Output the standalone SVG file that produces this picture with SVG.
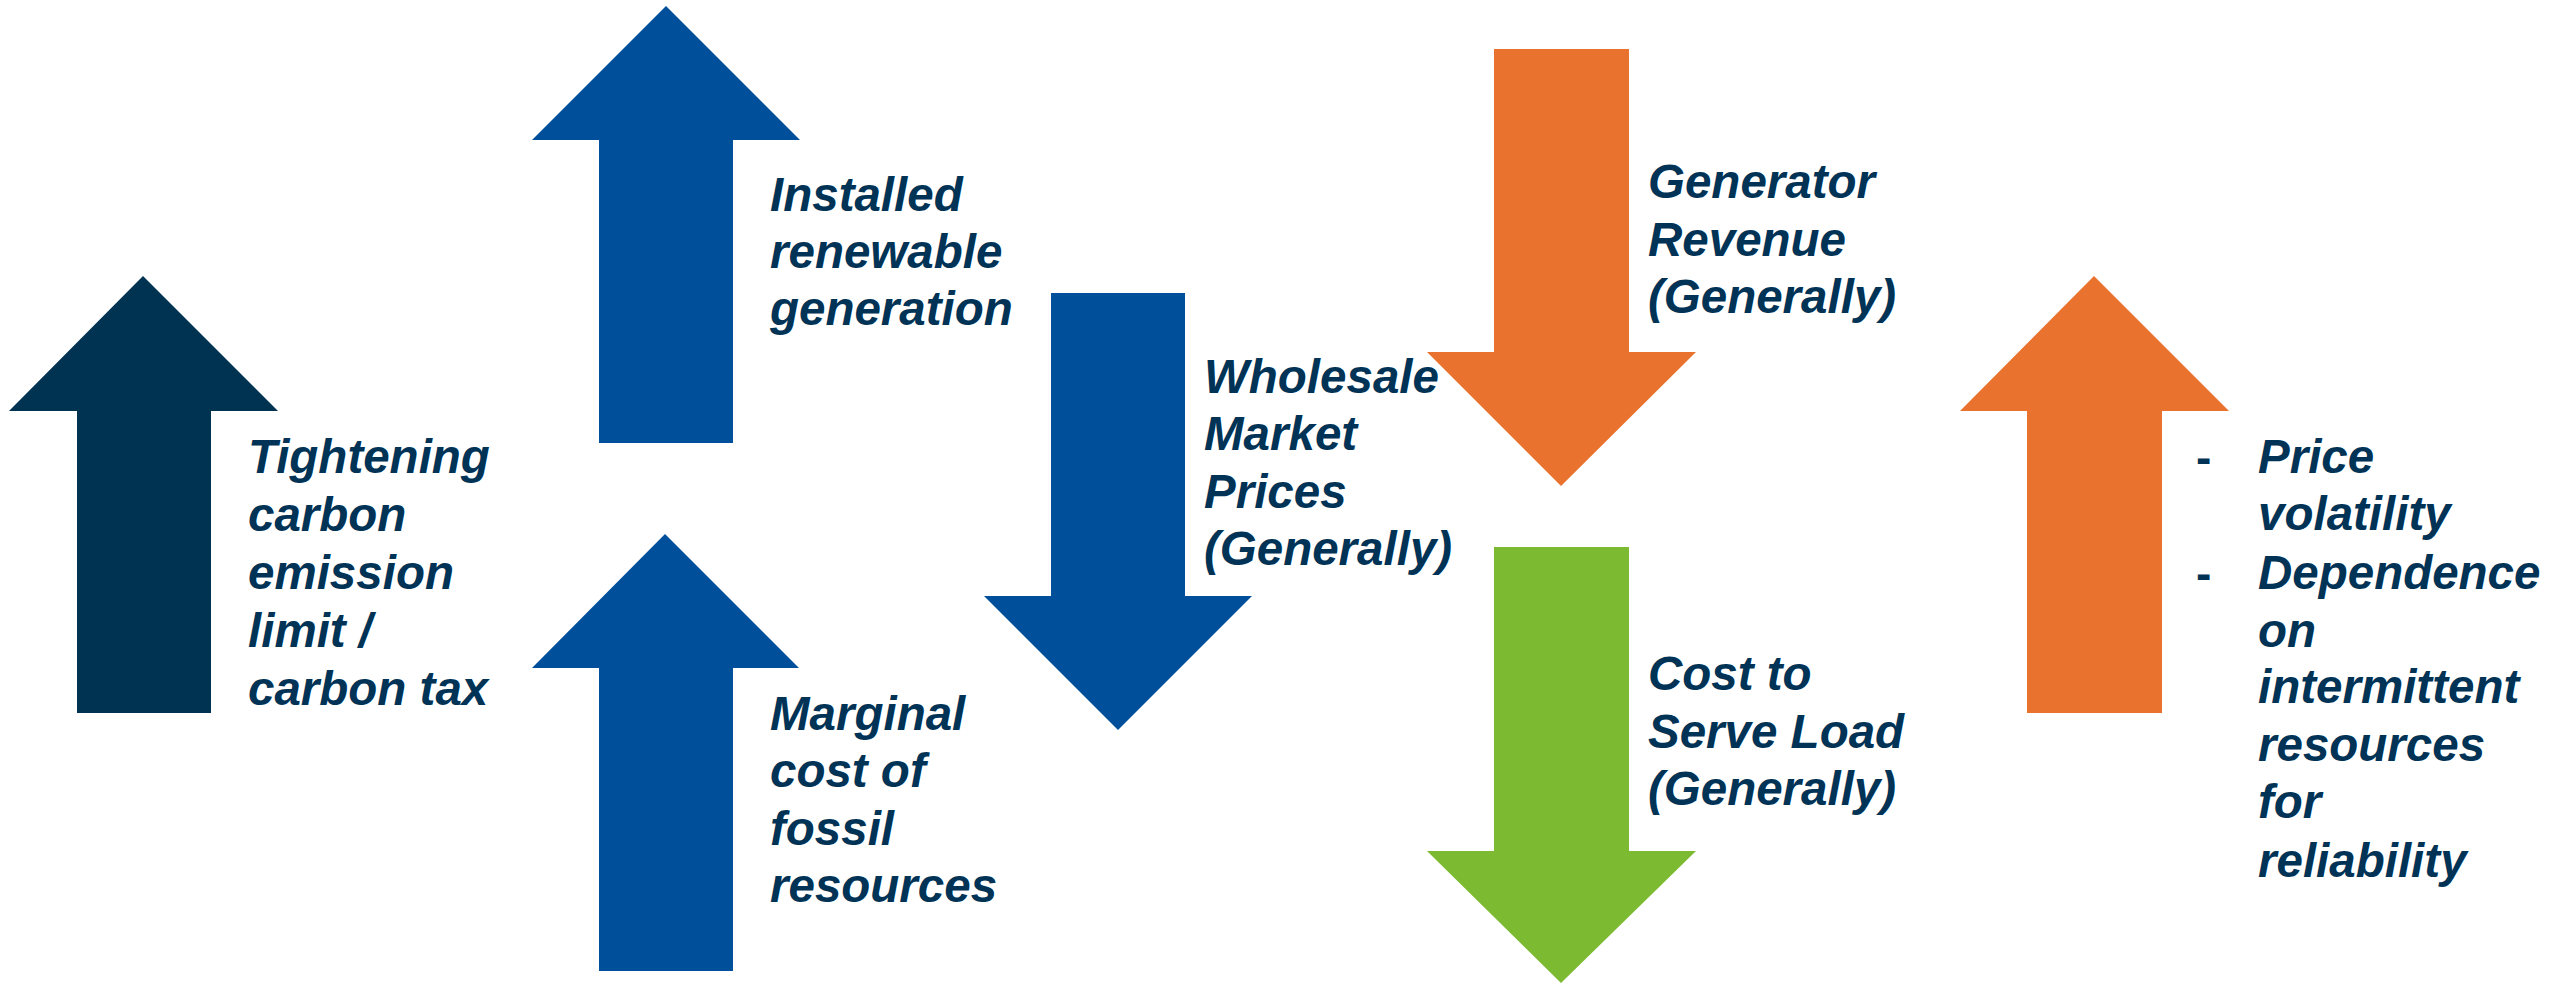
<svg xmlns="http://www.w3.org/2000/svg" width="2552" height="986" viewBox="0 0 2552 986">
<style>
.lbl{font-family:"Liberation Sans",Arial,sans-serif;font-weight:bold;font-style:italic;font-size:47.5px;fill:#003356}
.dash{font-family:"Liberation Sans",Arial,sans-serif;font-weight:bold;font-size:46px;fill:#003356}
.navy{fill:#003352}
.blue{fill:#004F9A}
.orange{fill:#E8722E}
.green{fill:#7CBB31}
</style>
<rect width="2552" height="986" fill="#ffffff"/>
<g id="carbon">
<polygon class="navy" points="143,276 278,411 211,411 211,713 77,713 77,411 9,411"/>
<text class="lbl" x="248" y="473">Tightening</text>
<text class="lbl" x="248" y="531">carbon</text>
<text class="lbl" x="248" y="589">emission</text>
<text class="lbl" x="248" y="647">limit /</text>
<text class="lbl" x="248" y="705">carbon tax</text>
</g>
<g id="renewable">
<polygon class="blue" points="666,6 800,140 733,140 733,443 599,443 599,140 532,140"/>
<text class="lbl" x="770" y="211">Installed</text>
<text class="lbl" x="770" y="268">renewable</text>
<text class="lbl" x="770" y="325">generation</text>
</g>
<g id="fossil">
<polygon class="blue" points="665,534 799,668 733,668 733,971 599,971 599,668 532,668"/>
<text class="lbl" x="770" y="730">Marginal</text>
<text class="lbl" x="770" y="787">cost of</text>
<text class="lbl" x="770" y="845">fossil</text>
<text class="lbl" x="770" y="902">resources</text>
</g>
<g id="wholesale">
<polygon class="blue" points="1051,293 1185,293 1185,596 1252,596 1118,730 984,596 1051,596"/>
<text class="lbl" x="1204" y="393">Wholesale</text>
<text class="lbl" x="1204" y="450">Market</text>
<text class="lbl" x="1204" y="508">Prices</text>
<text class="lbl" x="1204" y="565">(Generally)</text>
</g>
<g id="revenue">
<polygon class="orange" points="1494,49 1629,49 1629,352 1696,352 1561,486 1427,352 1494,352"/>
<text class="lbl" x="1648" y="198">Generator</text>
<text class="lbl" x="1648" y="256">Revenue</text>
<text class="lbl" x="1648" y="313">(Generally)</text>
</g>
<g id="cost">
<polygon class="green" points="1494,547 1629,547 1629,851 1696,851 1561,983 1427,851 1494,851"/>
<text class="lbl" x="1648" y="690">Cost to</text>
<text class="lbl" x="1648" y="748">Serve Load</text>
<text class="lbl" x="1648" y="805">(Generally)</text>
</g>
<g id="volatility">
<polygon class="orange" points="2094,276 2229,411 2162,411 2162,713 2027,713 2027,411 1960,411"/>
<text class="dash" x="2196" y="473">-</text>
<text class="dash" x="2196" y="589">-</text>
<text class="lbl" x="2258" y="473">Price</text>
<text class="lbl" x="2258" y="530">volatility</text>
<text class="lbl" x="2258" y="589">Dependence</text>
<text class="lbl" x="2258" y="647">on</text>
<text class="lbl" x="2258" y="703">intermittent</text>
<text class="lbl" x="2258" y="761">resources</text>
<text class="lbl" x="2258" y="818">for</text>
<text class="lbl" x="2258" y="877">reliability</text>
</g>
<g id="connectors"></g>
</svg>
